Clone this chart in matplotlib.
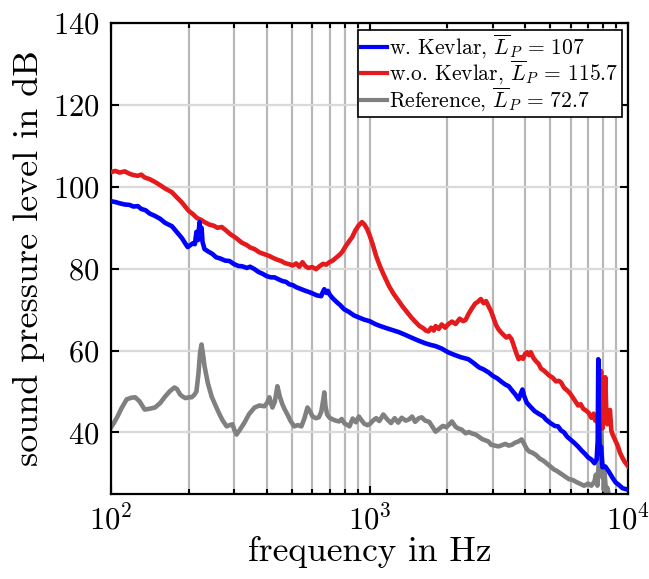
import matplotlib
matplotlib.use("Agg")
import matplotlib.pyplot as plt
from matplotlib.ticker import LogLocator, FixedLocator

plt.rcParams["font.family"] = "serif"
plt.rcParams["font.serif"] = ["cmr10"]
plt.rcParams["mathtext.fontset"] = "cm"
plt.rcParams["axes.formatter.use_mathtext"] = True

# w.o. Kevlar (red)
f_red = [100, 104, 108, 113, 118, 122, 127, 131, 135, 141, 148, 155, 162, 172, 180, 188, 193, 200,
         207, 215, 222, 230, 240, 250, 258, 268, 278, 290, 300, 309, 320, 335, 345, 359, 375, 390,
         410, 425, 440, 455, 470, 489, 505, 520, 535, 550, 565, 580, 600, 621, 640, 660, 680, 699,
         720, 745, 765, 783, 810, 835, 856, 880, 905, 935, 955, 978, 1000, 1030, 1060, 1100, 1140,
         1190, 1240, 1290, 1340, 1400, 1450, 1510, 1560, 1610, 1650, 1690, 1730, 1770, 1800, 1850,
         1900, 1960, 2010, 2080, 2150, 2230, 2300, 2350, 2410, 2480, 2560, 2620, 2690, 2760, 2820,
         2880, 2950, 3020, 3080, 3150, 3230, 3300, 3380, 3460, 3540, 3620, 3700, 3770, 3840, 3920,
         3990, 4060, 4130, 4200, 4300, 4400, 4500, 4600, 4700, 4800, 4950, 5100, 5250, 5400, 5500,
         5650, 5800, 5950, 6100, 6250, 6400, 6550, 6700, 6850, 7030, 7200, 7350, 7450, 7550, 7650,
         7750, 7800, 7850, 7900, 7950, 8000, 8080, 8150, 8220, 8300, 8400, 8500, 8600, 8700, 8800,
         8940, 9100, 9300, 9500, 9700, 10000]
L_red = [103.6, 103.9, 103.5, 103.8, 103.2, 102.9, 102.7, 103.0, 102.3, 101.9, 101.2, 100.4, 99.6,
         98.7, 97.4, 96.2, 95.3, 94.1, 93.4, 92.4, 92.0, 91.4, 90.8, 90.5, 90.0, 90.2, 89.4, 88.4,
         87.8, 87.2, 86.4, 85.8, 85.2, 84.8, 84.0, 83.6, 83.1, 82.6, 82.2, 81.9, 81.4, 81.1, 80.8,
         81.3, 80.5, 81.6, 80.6, 80.2, 80.4, 79.9, 80.6, 81.2, 81.0, 81.6, 82.0, 82.8, 83.4, 84.1,
         85.6, 86.8, 87.7, 89.3, 90.5, 91.4, 90.8, 89.7, 88.2, 85.8, 83.1, 80.4, 78.2, 75.7, 73.8,
         72.3, 70.8, 69.3, 68.1, 66.9, 66.0, 65.5, 64.9, 64.7, 65.6, 64.9, 66.0, 65.3, 66.4, 65.6,
         66.4, 67.1, 66.5, 67.8, 67.2, 67.5, 68.9, 70.2, 71.5, 71.9, 72.6, 71.6, 72.1, 70.9, 69.6,
         67.8, 66.3, 65.2, 64.4, 63.8, 63.2, 63.6, 62.8, 61.0, 59.2, 57.9, 58.4, 58.0, 59.2, 59.6,
         58.9, 59.6, 58.2, 57.4, 56.8, 55.6, 55.2, 54.7, 53.9, 53.4, 52.5, 52.6, 52.2, 50.9, 50.3,
         49.6, 48.6, 47.6, 46.6, 46.9, 45.8, 45.4, 44.8, 43.6, 44.6, 42.9, 43.8, 41.8, 43.5, 50.0,
         55.0, 46.5, 41.0, 44.5, 48.0, 53.5, 46.0, 42.0, 44.5, 45.5, 40.5, 39.5, 38.8, 37.8, 36.8,
         35.0, 33.8, 32.8, 31.7]

# w. Kevlar (blue)
f_blue = [100, 104, 108, 113, 118, 122, 127, 131, 136, 141, 148, 155, 162, 172, 180, 188, 195, 198,
          203, 207, 211, 214, 217, 220, 222, 224, 226, 230, 238, 247, 255, 265, 276, 287, 298, 310,
          322, 335, 345, 359, 372, 385, 400, 415, 429, 445, 460, 475, 489, 505, 520, 540, 560, 584,
          605, 625, 650, 660, 668, 680, 690, 699, 720, 745, 770, 797, 830, 870, 910, 950, 1000,
          1050, 1100, 1160, 1230, 1300, 1380, 1460, 1550, 1640, 1720, 1800, 1900, 2010, 2120, 2250,
          2410, 2520, 2650, 2760, 2880, 3000, 3120, 3250, 3350, 3450, 3560, 3660, 3770, 3840, 3900,
          3960, 4050, 4200, 4350, 4500, 4700, 4800, 5000, 5200, 5350, 5500, 5650, 5800, 6000, 6200,
          6390, 6600, 6800, 7000, 7200, 7400, 7550, 7620, 7660, 7700, 7760, 7850, 7950, 8150, 8400,
          8700, 8940, 9200, 9500, 10000]
L_blue = [96.5, 96.3, 96.0, 95.7, 95.6, 95.2, 95.3, 94.6, 94.3, 93.5, 92.9, 92.2, 91.2, 90.4, 88.9,
          87.5, 85.9, 85.3, 85.8, 86.2, 86.0, 89.0, 87.0, 91.4, 88.0, 90.0, 86.5, 84.8, 84.2, 83.6,
          82.8, 82.5, 82.0, 81.9, 81.2, 80.7, 80.6, 80.2, 80.5, 79.9, 79.2, 78.8, 78.2, 77.9, 77.9,
          77.4, 77.0, 76.8, 76.2, 76.0, 75.5, 75.1, 74.7, 74.3, 73.9, 73.5, 73.3, 74.4, 75.0, 74.1,
          74.6, 73.8, 72.8, 71.9, 71.1, 70.1, 69.5, 68.6, 68.1, 67.6, 67.2, 66.5, 66.0, 65.5, 65.0,
          64.5, 63.8, 63.1, 62.4, 61.8, 61.4, 61.1, 60.5, 59.6, 59.0, 58.4, 57.9, 57.0, 55.9, 55.4,
          54.7, 53.8, 53.2, 52.3, 51.7, 51.3, 50.2, 49.3, 48.1, 49.5, 50.5, 48.9, 47.3, 46.2, 45.2,
          44.6, 43.9, 43.2, 42.3, 41.6, 41.5, 40.5, 40.0, 39.0, 38.2, 37.4, 36.6, 35.6, 34.8, 33.9,
          33.4, 32.5, 33.5, 38.0, 57.9, 44.0, 35.0, 36.5, 31.5, 31.7, 30.5, 28.9, 27.8, 27.2, 26.4,
          26.0]

# Reference (gray)
f_gray = [100, 103, 106, 110, 115, 120, 124, 129, 135, 141, 148, 155, 162, 169, 176, 180, 185, 189,
          194, 200, 205, 210, 214, 218, 221, 224, 227, 230, 237, 245, 254, 263, 270, 280, 288, 295,
          300, 306, 316, 328, 342, 359, 375, 392, 402, 410, 416, 421, 430, 440, 450, 460, 470, 481,
          495, 511, 528, 545, 560, 575, 590, 602, 620, 636, 650, 662, 668, 675, 685, 700, 720, 740,
          762, 780, 800, 818, 836, 860, 885, 909, 930, 955, 980, 1000, 1030, 1060, 1090, 1130,
          1170, 1210, 1250, 1290, 1330, 1380, 1420, 1460, 1500, 1550, 1590, 1640, 1700, 1750, 1800,
          1860, 1920, 1980, 2040, 2080, 2150, 2200, 2270, 2350, 2420, 2500, 2570, 2640, 2720, 2800,
          2880, 2950, 3050, 3150, 3250, 3350, 3450, 3550, 3650, 3760, 3870, 3960, 4050, 4150, 4250,
          4400, 4550, 4700, 4850, 5000, 5150, 5300, 5500, 5700, 5900, 6100, 6300, 6500, 6750, 7000,
          7200, 7400, 7500, 7600, 7700, 7760, 7800, 7850, 7900, 7950, 8000, 8050, 8100, 8150, 8200,
          8300, 8400, 8500, 8700, 9000, 10000]
L_gray = [41.2, 42.5, 43.9, 46.0, 48.1, 48.5, 48.6, 47.6, 45.6, 45.8, 46.1, 47.2, 48.8, 50.1, 51.0,
          50.6, 49.3, 48.8, 48.4, 48.6, 48.6, 49.2, 50.0, 54.5, 59.5, 61.5, 59.0, 56.2, 52.0, 48.8,
          46.5, 44.4, 43.0, 41.5, 41.8, 42.0, 40.6, 39.5, 40.8, 42.4, 44.5, 46.1, 46.6, 46.4, 47.3,
          48.6, 47.0, 46.1, 47.5, 51.3, 48.7, 46.9, 45.6, 44.4, 42.8, 41.5, 41.8, 41.5, 43.5, 46.1,
          45.0, 43.9, 43.5, 43.7, 45.0, 48.0, 49.8, 46.5, 44.4, 43.6, 43.2, 42.9, 42.7, 43.3, 42.2,
          41.9, 41.5, 43.4, 42.5, 43.9, 43.0, 42.1, 41.8, 42.0, 42.9, 43.5, 42.8, 44.4, 43.2, 42.3,
          43.5, 42.4, 43.6, 42.9, 43.2, 43.9, 42.6, 43.5, 43.7, 42.9, 42.6, 41.4, 40.2, 40.9, 41.6,
          41.3, 42.1, 42.7, 41.4, 41.0, 40.7, 39.8, 40.1, 39.7, 39.5, 39.0, 38.4, 38.1, 37.8, 37.0,
          36.8, 36.6, 36.9, 37.2, 36.8, 37.0, 37.5, 37.8, 38.3, 37.2, 36.0, 35.3, 35.1, 34.5, 33.6,
          33.1, 32.4, 31.7, 31.0, 30.6, 29.9, 29.2, 28.6, 28.4, 27.9, 27.5, 27.0, 27.5, 27.0, 28.0,
          29.7, 27.0, 33.0, 30.0, 38.0, 42.7, 35.0, 29.0, 32.0, 26.0, 30.0, 28.0, 25.5, 26.5, 25.0,
          24.0, 23.0, 22.0, 21.0]

labels = [r"w. Kevlar, $\overline{L}_P\,=\,107$",
          r"w.o. Kevlar, $\overline{L}_P\,=\,115.7$",
          r"Reference, $\overline{L}_P\,=\,72.7$"]
colors = ["#0000ff", "#e41a1c", "#808080"]

fig = plt.figure(figsize=(6.49, 5.79), dpi=100)
ax = fig.add_axes([0.171, 0.147, 0.797, 0.813])

ax.plot(f_red, L_red, color=colors[1], lw=3.3, zorder=3)
ax.plot(f_blue, L_blue, color=colors[0], lw=3.3, zorder=4)
ax.plot(f_gray, L_gray, color=colors[2], lw=3.3, zorder=2)

# legend in blue, red, gray order
h = [ax.lines[1], ax.lines[0], ax.lines[2]]
leg = ax.legend(h, labels, loc="upper right", fontsize=15.5, handlelength=1.2,
                handletextpad=0.1, borderpad=0.15, labelspacing=-0.08, borderaxespad=0.3,
                fancybox=False, framealpha=1, edgecolor="black")
leg.get_frame().set_linewidth(1.2)
for ln in leg.get_lines():
    ln.set_linewidth(3.0)

ax.set_xscale("log")
ax.set_xlim(100, 10000)
ax.set_ylim(25, 140)
ax.yaxis.set_major_locator(FixedLocator([40, 60, 80, 100, 120, 140]))
ax.xaxis.set_minor_locator(LogLocator(base=10, subs=range(2, 10)))

ax.grid(True, which="both", axis="x", color="#b8b8b8", lw=1.6)
ax.grid(True, which="major", axis="y", color="#d9d9d9", lw=1.6)
ax.set_axisbelow(True)

ax.tick_params(which="both", direction="in", top=True, right=True, labelsize=22, width=1.5)
ax.tick_params(which="major", length=6, pad=8)
ax.tick_params(which="minor", length=3.5)
for s in ax.spines.values():
    s.set_linewidth(1.6)

ax.set_xlabel("frequency in Hz", fontsize=25.5, labelpad=0)
ax.set_ylabel("sound pressure level in dB", fontsize=26, labelpad=6)

fig.savefig("out.png", dpi=100)
